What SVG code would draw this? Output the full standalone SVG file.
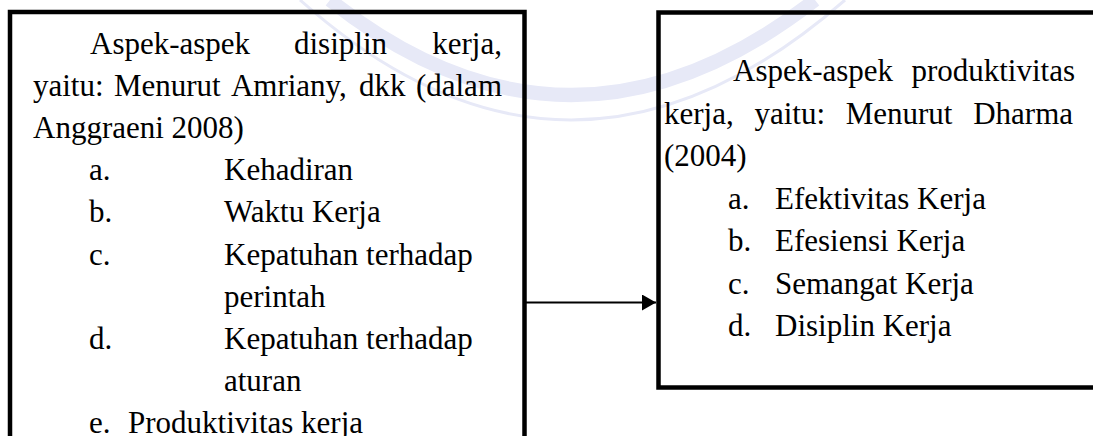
<svg xmlns="http://www.w3.org/2000/svg" width="1093" height="436" viewBox="0 0 1093 436">
<defs>
<style>
.t{font-family:"Liberation Serif","Times New Roman",serif;font-size:31px;fill:#000}
.box{fill:none;stroke:#000;stroke-width:4.5}
.wm{fill:none;stroke:#e7e9f7}
</style>
<marker id="ah" markerWidth="14" markerHeight="16" refX="14" refY="8" orient="auto" markerUnits="userSpaceOnUse">
<path d="M0,0 L14,8 L0,16 Z" fill="#000"/>
</marker>
</defs>
<rect width="1093" height="436" fill="#fff"/>
<g id="watermark">
<path class="wm" stroke-width="14" d="M330,0 Q570,190 815,0"/>
<path class="wm" stroke-width="3" d="M300,0 Q570,240 845,0"/>
</g>
<g id="node-disiplin">
<rect class="box" x="10" y="12" width="514.5" height="460"/>
<text class="t"><tspan x="90" y="53.5">Aspek-aspek</tspan><tspan x="294" y="53.5">disiplin</tspan><tspan x="502" y="53.5" text-anchor="end">kerja,</tspan></text>
<text class="t"><tspan x="33" y="95.7">yaitu:</tspan><tspan x="113.9" y="95.7">Menurut</tspan><tspan x="230.9" y="95.7">Amriany,</tspan><tspan x="359.1" y="95.7">dkk</tspan><tspan x="502" y="95.7" text-anchor="end">(dalam</tspan></text>
<text class="t" x="33" y="137.9">Anggraeni 2008)</text>
<text class="t" x="89" y="180.1">a.</text><text class="t" x="224" y="180.1">Kehadiran</text>
<text class="t" x="89" y="222.3">b.</text><text class="t" x="224" y="222.3">Waktu Kerja</text>
<text class="t" x="89" y="264.5">c.</text><text class="t" x="224" y="264.5">Kepatuhan terhadap</text>
<text class="t" x="224" y="306.7">perintah</text>
<text class="t" x="89" y="348.9">d.</text><text class="t" x="224" y="348.9">Kepatuhan terhadap</text>
<text class="t" x="224" y="391.1">aturan</text>
<text class="t" x="89" y="433.3">e.</text><text class="t" x="128" y="433.3">Produktivitas kerja</text>
</g>
<g id="node-produktivitas">
<rect class="box" x="658.5" y="12.5" width="450" height="375"/>
<text class="t"><tspan x="733" y="81">Aspek-aspek</tspan><tspan x="1075" y="81" text-anchor="end">produktivitas</tspan></text>
<text class="t"><tspan x="664" y="123.5">kerja,</tspan><tspan x="754.4" y="123.5">yaitu:</tspan><tspan x="845.7" y="123.5">Menurut</tspan><tspan x="1073" y="123.5" text-anchor="end">Dharma</tspan></text>
<text class="t" x="664" y="166">(2004)</text>
<text class="t" x="728" y="208.5">a.</text><text class="t" x="775" y="208.5">Efektivitas Kerja</text>
<text class="t" x="728" y="251">b.</text><text class="t" x="775" y="251">Efesiensi Kerja</text>
<text class="t" x="728" y="293.5">c.</text><text class="t" x="775" y="293.5">Semangat Kerja</text>
<text class="t" x="728" y="336">d.</text><text class="t" x="775" y="336">Disiplin Kerja</text>
</g>
<g id="connectors">
<line x1="524.5" y1="302.5" x2="656" y2="302.5" stroke="#000" stroke-width="2" marker-end="url(#ah)"/>
</g>
</svg>
